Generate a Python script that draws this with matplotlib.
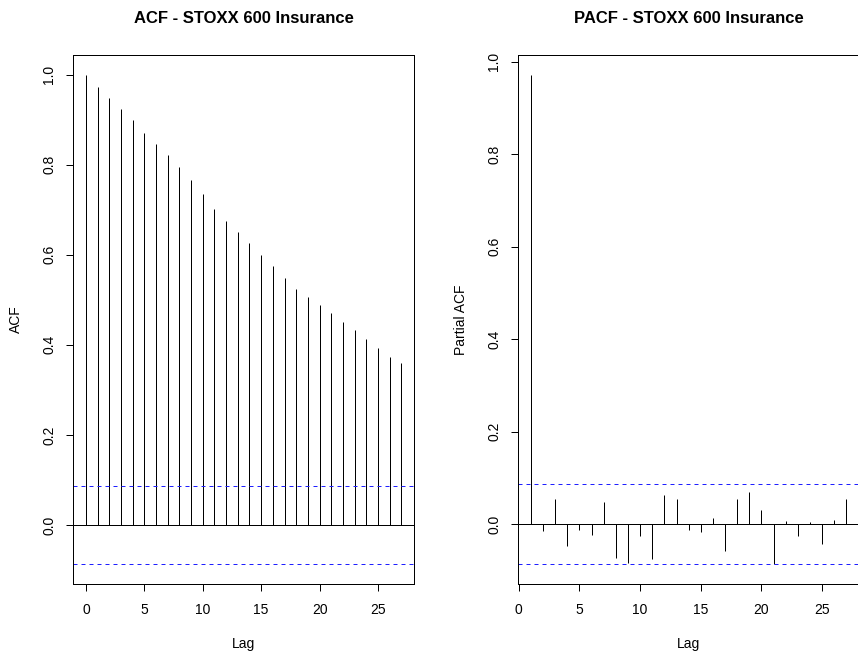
import numpy as np
import matplotlib
matplotlib.use("Agg")
import matplotlib.pyplot as plt

plt.rcParams['font.family'] = ['Liberation Sans', 'DejaVu Sans']

# Sample autocorrelations of the STOXX 600 Insurance series
acf_lags = list(range(0, 28))
acf_values = [1.000, 0.973, 0.947, 0.923, 0.899, 0.871, 0.846, 0.822, 0.795,
              0.767, 0.735, 0.702, 0.675, 0.650, 0.625, 0.600, 0.574, 0.548,
              0.525, 0.506, 0.488, 0.470, 0.451, 0.433, 0.413, 0.392, 0.373,
              0.359]

# Sample partial autocorrelations
pacf_lags = list(range(1, 28))
pacf_values = [0.9725, -0.016, 0.055, -0.047, -0.014, -0.024, 0.048, -0.073,
               -0.084, -0.027, -0.075, 0.063, 0.054, -0.012, -0.018, 0.012,
               -0.058, 0.054, 0.070, 0.031, -0.087, 0.006, -0.026, 0.004,
               -0.043, 0.008, 0.054]

# 95% white-noise bound
ci_bound = 0.0875

x_ticks = [0, 5, 10, 15, 20, 25]
acf_yticks = [0.0, 0.2, 0.4, 0.6, 0.8, 1.0]
pacf_yticks = [0.0, 0.2, 0.4, 0.6, 0.8, 1.0]

W, H = 858, 657
fig = plt.figure(figsize=(W / 100, H / 100), dpi=100)

px = 1.0 / 100 * 72  # one pixel in points
ax_w = 340.7
ax_top, ax_bot = 55.0, 584.0


def make_axes(left_px):
    return fig.add_axes([left_px / W, (H - ax_bot) / H,
                         ax_w / W, (ax_bot - ax_top) / H])


def r_range(lo, hi):
    pad = (hi - lo) * 0.04
    return lo - pad, hi + pad


def style(ax, lags, vals, title, ylabel, yticks):
    ax.vlines(lags, 0, vals, colors='black', linewidth=px)
    ax.axhline(0, color='black', linewidth=px)
    for c in (ci_bound, -ci_bound):
        ax.axhline(c, color='#1f1fff', linewidth=px, linestyle=(0, (4, 4)))
    ax.set_xlim(*r_range(min(lags), max(lags)))
    ax.set_ylim(*r_range(min(min(vals), -ci_bound), max(max(vals), ci_bound)))
    ax.set_xticks(x_ticks)
    ax.set_yticks(yticks)
    ax.set_yticklabels([f"{t:.1f}" for t in yticks], rotation=90,
                       va='center', ha='right')
    ax.tick_params(axis='both', direction='out', length=5.2, width=px,
                   labelsize=10, color='black')
    ax.tick_params(axis='x', pad=8.3)
    ax.tick_params(axis='y', pad=7.0)
    for s in ax.spines.values():
        s.set_linewidth(px)
        s.set_color('black')
    ax.set_title(title, fontsize=12, fontweight='bold', pad=22.8)
    ax.set_xlabel('Lag', fontsize=10, va='baseline')
    ax.xaxis.set_label_coords(0.5, -(648 - ax_bot) / (ax_bot - ax_top))
    ax.set_ylabel(ylabel, fontsize=10, va='baseline')
    ax.yaxis.set_label_coords(-53.0 / ax_w, 0.5)


ax1 = make_axes(73.3)
style(ax1, acf_lags, acf_values, 'ACF - STOXX 600 Insurance', 'ACF', acf_yticks)

ax2 = make_axes(518.3)
ax2.spines['right'].set_visible(False)
style(ax2, pacf_lags, pacf_values, 'PACF - STOXX 600 Insurance', 'Partial ACF',
      pacf_yticks)
ax2.set_xlim(-0.04, 28.04)

fig.savefig('out.png', dpi=100)
